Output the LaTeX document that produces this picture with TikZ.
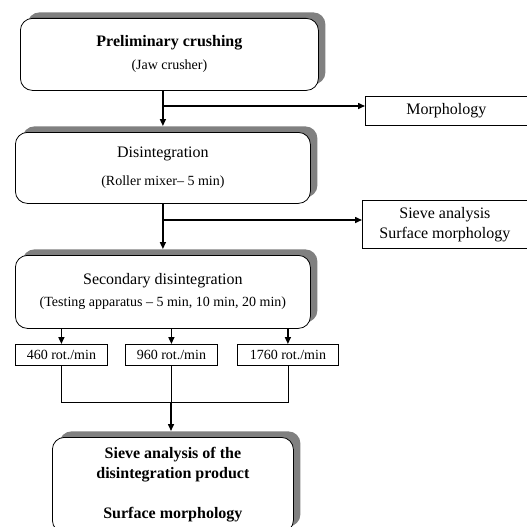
\documentclass[tikz,border=0pt]{standalone}
\usepackage{fontspec}
\setmainfont{Liberation Serif}
\usetikzlibrary{arrows.meta,shadows}
\begin{document}
\begin{tikzpicture}[x=1pt,y=-1pt,
  stage/.style={draw, rounded corners=12pt, fill=white, line width=0.8pt,
    general shadow={fill=black!50, shadow xshift=7pt, shadow yshift=6pt},
    align=center, inner sep=0pt, anchor=north west,
    font=\fontsize{16}{19}\selectfont},
  side/.style={draw, fill=white, line width=0.8pt, align=center, inner sep=0pt,
    anchor=north west, font=\fontsize{16}{20}\selectfont},
  rot/.style={draw, fill=white, line width=0.8pt, inner sep=0pt,
    anchor=north west, font=\fontsize{14}{17}\selectfont},
  flow/.style={line width=1.5pt, -{Triangle[length=7pt,width=6pt]}},
  thinline/.style={line width=0.7pt}
]
\useasboundingbox (0,0) rectangle (527,527);

\node[stage, minimum width=298pt, minimum height=72pt] (b1) at (20,18)
  {\textbf{Preliminary crushing}\\[4pt]{\fontsize{14}{17}\selectfont (Jaw crusher)}};
\node[stage, minimum width=295pt, minimum height=71pt] (b2) at (15,132)
  {Disintegration\\[9pt]{\fontsize{14}{17}\selectfont (Roller mixer-- 5 min)}};
\node[stage, minimum width=295pt, minimum height=73pt] (b3) at (15,255)
  {Secondary disintegration\\[3pt]{\fontsize{14}{17}\selectfont (Testing apparatus -- 5 min, 10 min, 20 min)}};
\node[stage, minimum width=241pt, minimum height=95pt, font=\fontsize{16}{20}\selectfont\bfseries] (b4) at (52,437)
  {Sieve analysis of the\\disintegration product\\[20pt]Surface morphology};

\node[side, minimum width=162pt, minimum height=29pt] (m) at (365,96) {Morphology};
\node[side, minimum width=165pt, minimum height=48pt] (s) at (362,200) {Sieve analysis\\Surface morphology};

\node[rot, minimum width=92pt, minimum height=21pt] (ra) at (15,344) {460 rot./min};
\node[rot, minimum width=92pt, minimum height=21pt] (rb) at (125,344) {960 rot./min};
\node[rot, minimum width=101pt, minimum height=21pt] (rc) at (237,344) {1760 rot./min};

\coordinate (j1) at (162.5,106);
\coordinate (j2) at (162.5,220);
\coordinate (j3) at (171,402);

\draw[flow] (b1.south -| b2.north) -- ([yshift=6pt]b2.north);
\draw[flow] (j1) -- (j1 -| m.west);
\draw[flow] (b2.south) -- ([yshift=6pt]b3.north);
\draw[flow] (j2) -- (j2 -| s.west);

\draw[flow] (ra.north |- b3.south) -- (ra.north);
\draw[flow] (rb.north |- b3.south) -- (rb.north);
\draw[flow] (rc.north |- b3.south) -- (rc.north);

\draw[thinline] (ra.south) -- (ra.south |- j3) -- (rc.south |- j3) -- (rc.south);
\draw[thinline] (rb.south) -- (rb.south |- j3);
\draw[flow] (j3) -- ([yshift=6pt]j3 |- b4.north);
\end{tikzpicture}
\end{document}
